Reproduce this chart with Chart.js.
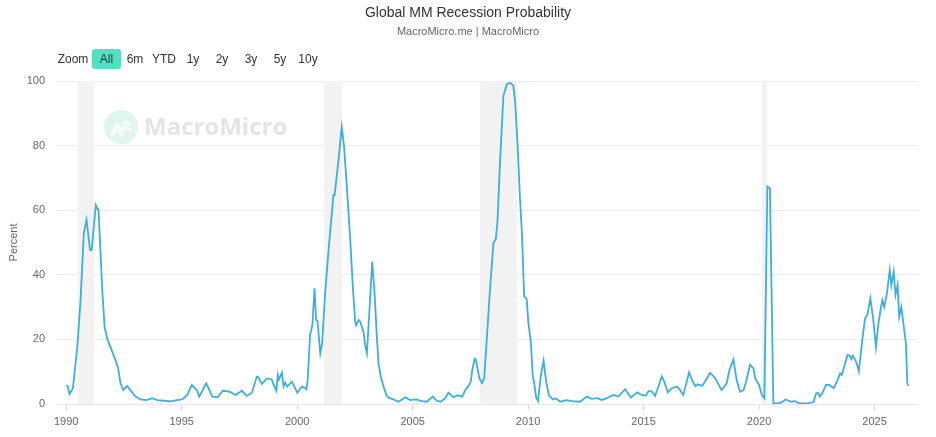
<!DOCTYPE html>
<html>
<head>
<meta charset="utf-8">
<script src="https://cdn.jsdelivr.net/npm/chart.js@4.4.1/dist/chart.umd.min.js"></script>
<style>
  html, body { margin: 0; padding: 0; background: #fff; }
  #wrap { position: relative; width: 936px; height: 437px; font-family: "Liberation Sans", Arial, sans-serif; }
  #chart { position: absolute; left: 0; top: 0; }
  .title { position: absolute; left: 0; width: 936px; top: 4px; text-align: center; font-size: 14px; color: #333; }
  .subtitle { position: absolute; left: 0; width: 936px; top: 25px; text-align: center; font-size: 11px; color: #666; }
  .range { position: absolute; top: 51px; font-size: 12px; color: #333; text-align: center; line-height: 17px; }
  .range.active { background: #52e0c4; border-radius: 3px; top: 49px; height: 20px; line-height: 20px; }
</style>
</head>
<body>
<div id="wrap">
  <canvas id="chart" width="936" height="437"></canvas>
  <div class="title">Global MM Recession Probability</div>
  <div class="subtitle">MacroMicro.me | MacroMicro</div>
  <div class="range" style="left:56px;width:34px;">Zoom</div>
  <div class="range active" style="left:92px;width:29px;">All</div>
  <div class="range" style="left:122px;width:26px;">6m</div>
  <div class="range" style="left:149px;width:30px;">YTD</div>
  <div class="range" style="left:180px;width:26px;">1y</div>
  <div class="range" style="left:209px;width:26px;">2y</div>
  <div class="range" style="left:238px;width:26px;">3y</div>
  <div class="range" style="left:267px;width:26px;">5y</div>
  <div class="range" style="left:294px;width:28px;">10y</div>
</div>
<script>
// decimal years and recession probability (%)
const dates = [
  1990.00, 1990.06, 1990.14, 1990.29, 1990.48, 1990.62, 1990.76, 1990.88, 1991.03, 1991.10,
  1991.28, 1991.40, 1991.56, 1991.66, 1991.77, 1991.99, 1992.13, 1992.25, 1992.35, 1992.47,
  1992.64, 1992.78, 1993.00, 1993.22, 1993.48, 1993.72, 1993.94, 1994.23, 1994.51, 1994.80,
  1995.02, 1995.24, 1995.44, 1995.55, 1995.66, 1995.76, 1996.06, 1996.33, 1996.55, 1996.78,
  1997.07, 1997.34, 1997.60, 1997.82, 1998.04, 1998.25, 1998.30, 1998.47, 1998.69, 1998.90,
  1998.98, 1999.10, 1999.16, 1999.21, 1999.34, 1999.41, 1999.48, 1999.57, 1999.77, 2000.01,
  2000.20, 2000.33, 2000.40, 2000.45, 2000.56, 2000.66, 2000.75, 2000.82, 2000.88, 2001.00,
  2001.08, 2001.21, 2001.36, 2001.57, 2001.62, 2001.79, 2001.93, 2002.03, 2002.15, 2002.29,
  2002.41, 2002.51, 2002.55, 2002.66, 2002.73, 2002.87, 2002.94, 2003.02, 2003.13, 2003.25,
  2003.35, 2003.45, 2003.52, 2003.62, 2003.74, 2003.88, 2004.00, 2004.14, 2004.39, 2004.68,
  2004.89, 2005.15, 2005.40, 2005.61, 2005.87, 2006.05, 2006.22, 2006.41, 2006.55, 2006.77,
  2006.95, 2007.15, 2007.27, 2007.42, 2007.52, 2007.58, 2007.69, 2007.73, 2007.89, 2008.00,
  2008.10, 2008.21, 2008.35, 2008.50, 2008.60, 2008.67, 2008.79, 2008.93, 2009.08, 2009.22,
  2009.36, 2009.44, 2009.54, 2009.65, 2009.73, 2009.83, 2009.94, 2010.01, 2010.12, 2010.20,
  2010.25, 2010.35, 2010.43, 2010.55, 2010.67, 2010.78, 2010.90, 2011.00, 2011.07, 2011.20,
  2011.39, 2011.67, 2011.89, 2012.25, 2012.54, 2012.76, 2013.00, 2013.19, 2013.41, 2013.69,
  2013.91, 2014.20, 2014.45, 2014.73, 2014.91, 2015.10, 2015.21, 2015.35, 2015.50, 2015.79,
  2015.89, 2016.05, 2016.22, 2016.44, 2016.55, 2016.72, 2016.97, 2017.13, 2017.25, 2017.34,
  2017.54, 2017.71, 2017.88, 2018.10, 2018.38, 2018.60, 2018.71, 2018.89, 2019.03, 2019.18,
  2019.33, 2019.44, 2019.61, 2019.76, 2019.83, 2020.00, 2020.12, 2020.23, 2020.36, 2020.47,
  2020.62, 2020.83, 2020.97, 2021.15, 2021.38, 2021.56, 2021.74, 2022.10, 2022.36, 2022.47,
  2022.56, 2022.63, 2022.74, 2022.90, 2023.04, 2023.23, 2023.37, 2023.51, 2023.58, 2023.69,
  2023.83, 2023.92, 2024.00, 2024.06, 2024.17, 2024.23, 2024.32, 2024.47, 2024.59, 2024.69,
  2024.82, 2024.94, 2025.06, 2025.17, 2025.27, 2025.34, 2025.42, 2025.54, 2025.66, 2025.73,
  2025.83, 2025.91, 2026.00, 2026.07, 2026.16, 2026.36, 2026.42, 2026.46
];
const probability = [
  5.7, 5.6, 3.1, 4.9, 17.7, 32.2, 52.8, 57.0, 47.7, 47.6,
  61.6, 59.8, 35.3, 23.9, 20.3, 16.2, 13.6, 11.0, 6.4, 4.3,
  5.6, 4.3, 2.3, 1.4, 1.2, 1.8, 1.2, 1.0, 0.8, 1.2,
  1.4, 2.8, 5.9, 5.0, 4.3, 2.3, 6.4, 2.3, 2.1, 4.1,
  3.8, 2.8, 4.1, 2.5, 3.5, 8.5, 8.5, 6.2, 7.9, 7.6,
  5.9, 4.1, 9.0, 7.6, 9.7, 5.4, 6.6, 5.4, 6.9, 3.5,
  5.4, 5.0, 4.5, 6.9, 21.4, 24.5, 35.8, 26.0, 25.7, 15.7,
  18.8, 34.3, 47.7, 64.7, 64.7, 75.5, 85.7, 79.7, 67.3, 51.8,
  36.3, 25.5, 24.4, 26.0, 25.5, 22.4, 18.3, 15.7, 29.1, 44.1,
  34.3, 20.8, 12.6, 8.5, 5.4, 2.5, 1.8, 1.5, 0.7, 2.1,
  1.2, 1.4, 0.9, 0.7, 2.3, 1.0, 0.7, 1.8, 3.5, 2.1,
  2.7, 2.3, 4.3, 5.6, 7.1, 10.5, 14.0, 13.9, 8.0, 6.5,
  8.0, 20.0, 35.5, 49.9, 51.0, 56.1, 75.8, 95.4, 99.0, 99.4,
  98.7, 93.3, 80.9, 63.4, 53.0, 33.4, 32.4, 25.2, 19.0, 8.7,
  7.1, 2.0, 0.9, 8.7, 13.4, 7.0, 2.7, 2.0, 1.4, 1.8,
  0.7, 1.2, 0.9, 0.7, 2.3, 1.6, 1.8, 1.2, 1.8, 2.8,
  2.3, 4.6, 2.0, 3.6, 2.8, 2.6, 4.0, 3.9, 2.5, 8.5,
  7.0, 3.6, 4.9, 5.4, 4.6, 2.8, 9.8, 6.9, 5.5, 6.1,
  5.6, 7.6, 9.7, 8.0, 4.3, 6.4, 10.3, 13.8, 7.4, 3.8,
  4.3, 6.9, 12.1, 11.0, 8.0, 5.9, 2.8, 1.8, 67.3, 66.8,
  0.2, 0.2, 0.5, 1.4, 0.7, 0.9, 0.2, 0.2, 0.6, 3.3,
  3.4, 2.3, 3.4, 5.9, 5.9, 4.9, 6.9, 9.5, 9.0, 11.6,
  15.2, 15.0, 13.9, 15.0, 13.5, 12.6, 10.1, 19.8, 26.5, 27.5,
  32.7, 26.5, 17.7, 25.0, 29.6, 32.2, 30.0, 34.3, 41.5, 36.8,
  41.0, 33.7, 36.8, 27.0, 30.0, 18.8, 6.4, 5.6
];

// US recession periods (shaded)
const recessionStarts = [1990.50, 2001.17, 2007.92, 2020.13];
const recessionEnds = [1991.21, 2001.95, 2009.52, 2020.35];

const yearTicks = [1990, 1995, 2000, 2005, 2010, 2015, 2020, 2025];

const backdrop = {
  id: 'backdrop',
  beforeDatasetsDraw(chart) {
    const { ctx, chartArea, scales } = chart;
    ctx.save();
    ctx.fillStyle = '#f2f2f2';
    recessionStarts.forEach((s, i) => {
      const x1 = scales.x.getPixelForValue(s);
      const x2 = scales.x.getPixelForValue(recessionEnds[i]);
      ctx.fillRect(x1, chartArea.top, x2 - x1, chartArea.bottom - chartArea.top);
    });
    // watermark
    ctx.fillStyle = '#dff6ef';
    ctx.beginPath();
    ctx.arc(121, 127, 17, 0, Math.PI * 2);
    ctx.fill();
    ctx.strokeStyle = '#ffffff';
    ctx.lineWidth = 2;
    ctx.beginPath();
    ctx.moveTo(111, 133); ctx.lineTo(117, 124); ctx.lineTo(121, 130); ctx.lineTo(126, 121); ctx.lineTo(131, 126);
    ctx.stroke();
    ctx.beginPath();
    ctx.moveTo(111, 137); ctx.lineTo(117, 129); ctx.lineTo(121, 135); ctx.lineTo(126, 127); ctx.lineTo(131, 131);
    ctx.stroke();
    ctx.fillStyle = '#e4e4e4';
    ctx.font = 'bold 24px "Open Sans", "Liberation Sans", sans-serif';
    ctx.textBaseline = 'middle';
    ctx.fillText('MacroMicro', 144, 128);
    ctx.restore();
  }
};

new Chart(document.getElementById('chart'), {
  type: 'line',
  data: {
    datasets: [{
      label: 'Global MM Recession Probability',
      data: dates.map((d, i) => ({ x: d, y: probability[i] })),
      borderColor: '#3eaedb',
      borderWidth: 1.8,
      pointRadius: 0,
      tension: 0,
      fill: false
    }]
  },
  options: {
    responsive: false,
    animation: false,
    layout: { padding: { top: 81, right: 19, bottom: 0, left: 0 } },
    plugins: { legend: { display: false }, tooltip: { enabled: false } },
    scales: {
      x: {
        type: 'linear',
        min: 1989.6,
        max: 2026.84,
        afterBuildTicks: (scale) => { scale.ticks = yearTicks.map(v => ({ value: v })); },
        afterFit: (scale) => { scale.height = 33; },
        grid: { display: true, drawOnChartArea: false, drawTicks: true, tickLength: 6, color: '#d8d8d8' },
        border: { display: true, color: '#e6e6e6' },
        ticks: {
          color: '#666',
          padding: 5,
          maxRotation: 0,
          font: { family: '"Liberation Sans", Arial, sans-serif', size: 11 },
          callback: (v) => String(v)
        }
      },
      y: {
        min: 0,
        max: 100,
        afterFit: (scale) => { scale.width = 57; },
        ticks: {
          stepSize: 20,
          color: '#666',
          padding: 12,
          font: { family: '"Liberation Sans", Arial, sans-serif', size: 11 }
        },
        grid: { color: '#ececec', drawTicks: false, lineWidth: 1 },
        border: { display: false },
        title: {
          display: true,
          text: 'Percent',
          color: '#666',
          padding: { top: 7, bottom: 0 },
          font: { family: '"Liberation Sans", Arial, sans-serif', size: 11 }
        }
      }
    }
  },
  plugins: [backdrop]
});
</script>
</body>
</html>
